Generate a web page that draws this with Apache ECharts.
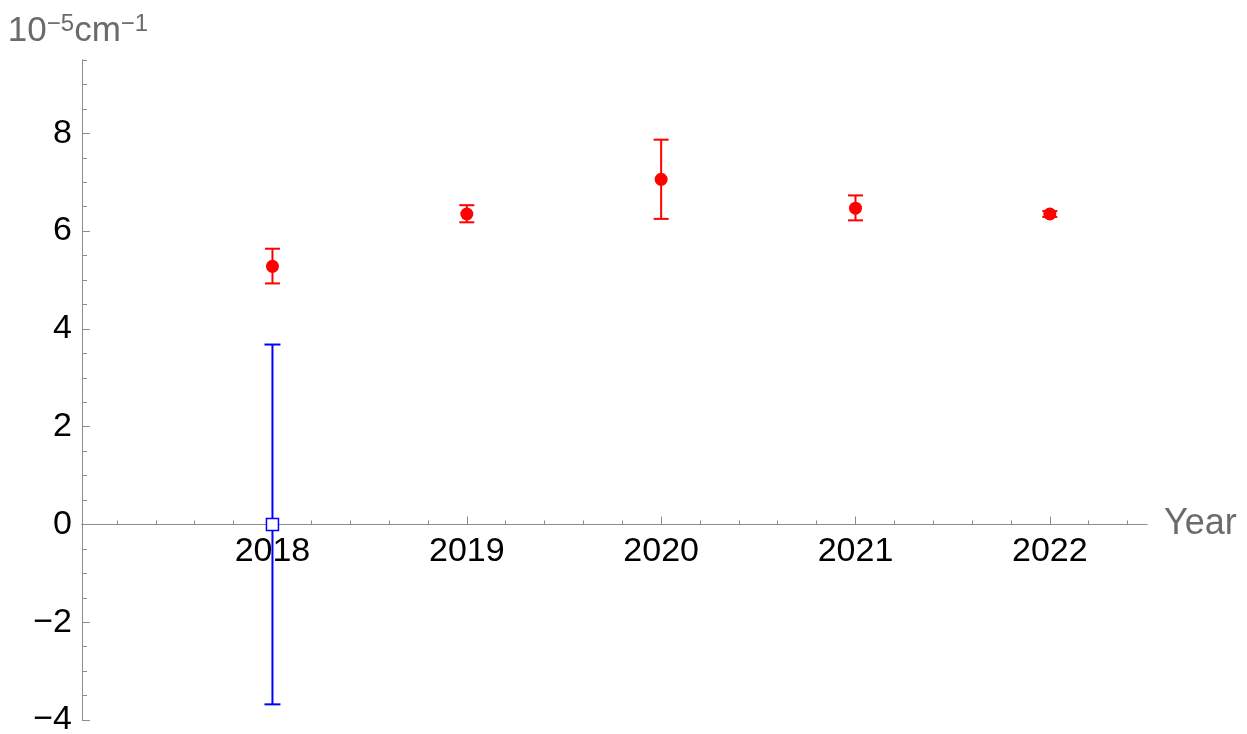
<!DOCTYPE html>
<html>
<head>
<meta charset="utf-8">
<script src="https://cdn.jsdelivr.net/npm/echarts@6/dist/echarts.min.js"></script>
<style>
  html, body { margin: 0; background: #fff; }
  #chart { width: 1247px; height: 734px; }
</style>
</head>
<body>
<div id="chart"></div>
<script>
// measured points (10^-5 cm^-1)
const years = [2018, 2019, 2020, 2021, 2022]
const redValues = [5.28, 6.35, 7.06, 6.47, 6.35]
const redLow = [4.93, 6.18, 6.25, 6.22, 6.29]
const redHigh = [5.64, 6.53, 7.87, 6.73, 6.41]

const blueYears = [2018]
const blueValues = [0]
const blueLow = [-3.68]
const blueHigh = [3.68]

// tick positions
const xMajorTicks = [2018, 2019, 2020, 2021, 2022]
const xMinorTicks = [2017.2, 2017.4, 2017.6, 2017.8, 2018.2, 2018.4, 2018.6, 2018.8,
  2019.2, 2019.4, 2019.6, 2019.8, 2020.2, 2020.4, 2020.6, 2020.8,
  2021.2, 2021.4, 2021.6, 2021.8, 2022.2, 2022.4]
const yMajorTicks = [-4, -2, 0, 2, 4, 6, 8]
const yMinorTicks = [-3.5, -3, -2.5, -1.5, -1, -0.5, 0.5, 1, 1.5, 2.5, 3, 3.5,
  4.5, 5, 5.5, 6.5, 7, 7.5, 8.5, 9, 9.5]

const FONT = '"Liberation Sans", Arial, sans-serif'
const AXIS_GRAY = '#8c8c8c'
const NAME_GRAY = '#6b6b6b'

function errorBars(capWidth, color) {
  return function (params, api) {
    const x = api.value(0)
    const lo = api.coord([x, api.value(1)])
    const hi = api.coord([x, api.value(2)])
    const half = capWidth / 2
    const style = { stroke: color, lineWidth: 2 }
    return {
      type: 'group',
      children: [
        { type: 'line', shape: { x1: lo[0], y1: lo[1], x2: hi[0], y2: hi[1] }, style },
        { type: 'line', shape: { x1: lo[0] - half, y1: lo[1], x2: lo[0] + half, y2: lo[1] }, style },
        { type: 'line', shape: { x1: hi[0] - half, y1: hi[1], x2: hi[0] + half, y2: hi[1] }, style }
      ]
    }
  }
}

const xBase = {
  type: 'value',
  min: 2017.02,
  max: 2022.5,
  position: 'bottom',
  offset: 0,
  splitLine: { show: false },
  axisLine: { show: true, onZero: false, lineStyle: { color: AXIS_GRAY, width: 1 } }
}
const yBase = {
  type: 'value',
  min: -4,
  max: 9.5,
  position: 'left',
  splitLine: { show: false },
  axisLine: { show: true, onZero: false, lineStyle: { color: AXIS_GRAY, width: 1 } }
}

const chart = echarts.init(document.getElementById('chart'))
chart.setOption({
  animation: false,
  grid: { left: 82, right: 100, top: 60, bottom: 14, containLabel: false, outerBoundsMode: 'none' },
  xAxis: [
    {
      ...xBase,
      axisTick: { show: true, inside: true, length: 8, customValues: xMajorTicks, lineStyle: { color: AXIS_GRAY } },
      axisLabel: {
        customValues: xMajorTicks, color: '#000', fontSize: 34, fontFamily: FONT, margin: 10,
        formatter: v => String(v)
      },
      name: 'Year',
      nameLocation: 'end',
      nameGap: 17,
      nameTextStyle: { color: NAME_GRAY, fontSize: 36, fontFamily: FONT }
    },
    {
      ...xBase,
      axisTick: { show: true, inside: true, length: 4, customValues: xMinorTicks, lineStyle: { color: AXIS_GRAY } },
      axisLabel: { show: false }
    }
  ],
  yAxis: [
    {
      ...yBase,
      axisTick: { show: true, inside: true, length: 8, customValues: yMajorTicks, lineStyle: { color: AXIS_GRAY } },
      axisLabel: {
        customValues: yMajorTicks,
        color: '#000', fontSize: 34, fontFamily: FONT, margin: 10,
        formatter: v => String(v).replace('-', '\u2212')
      },
      name: '{b|10}{s|\u22125}{b|cm}{s|\u22121}',
      nameLocation: 'end',
      nameGap: 9,
      nameTextStyle: {
        align: 'center',
        padding: [0, 8, 0, 0],
        rich: {
          b: { color: NAME_GRAY, fontSize: 35, fontFamily: FONT },
          s: { color: NAME_GRAY, fontSize: 24, fontFamily: FONT, padding: [0, 0, 15, 0] }
        }
      }
    },
    {
      ...yBase,
      axisTick: { show: true, inside: true, length: 5, customValues: yMinorTicks, lineStyle: { color: AXIS_GRAY } },
      axisLabel: { show: false }
    }
  ],
  series: [
    {
      type: 'custom',
      name: 'red bars',
      renderItem: errorBars(15, '#ff0000'),
      encode: { x: 0, y: [1, 2] },
      data: years.map((y, i) => [y, redLow[i], redHigh[i]]),
      z: 2
    },
    {
      type: 'scatter',
      name: 'red points',
      symbol: 'circle',
      symbolSize: 13,
      itemStyle: { color: '#ff0000', opacity: 1 },
      data: years.map((y, i) => [y, redValues[i]]),
      z: 3
    },
    {
      type: 'custom',
      name: 'blue bar',
      renderItem: errorBars(16, '#0000ff'),
      encode: { x: 0, y: [1, 2] },
      data: blueYears.map((y, i) => [y, blueLow[i], blueHigh[i]]),
      z: 2
    },
    {
      type: 'scatter',
      name: 'blue point',
      symbol: 'rect',
      symbolSize: 12,
      itemStyle: { color: '#ffffff', borderColor: '#0000ff', borderWidth: 1.5, opacity: 1 },
      data: blueYears.map((y, i) => [y, blueValues[i]]),
      z: 3
    }
  ]
})

// move the x axes up so they cross the y axis at 0
const zeroY = chart.convertToPixel({ yAxisIndex: 0 }, 0)
const bottomY = chart.convertToPixel({ yAxisIndex: 0 }, -4)
const shift = zeroY - bottomY
chart.setOption({ xAxis: [{ offset: shift }, { offset: shift }] })
</script>
</body>
</html>
